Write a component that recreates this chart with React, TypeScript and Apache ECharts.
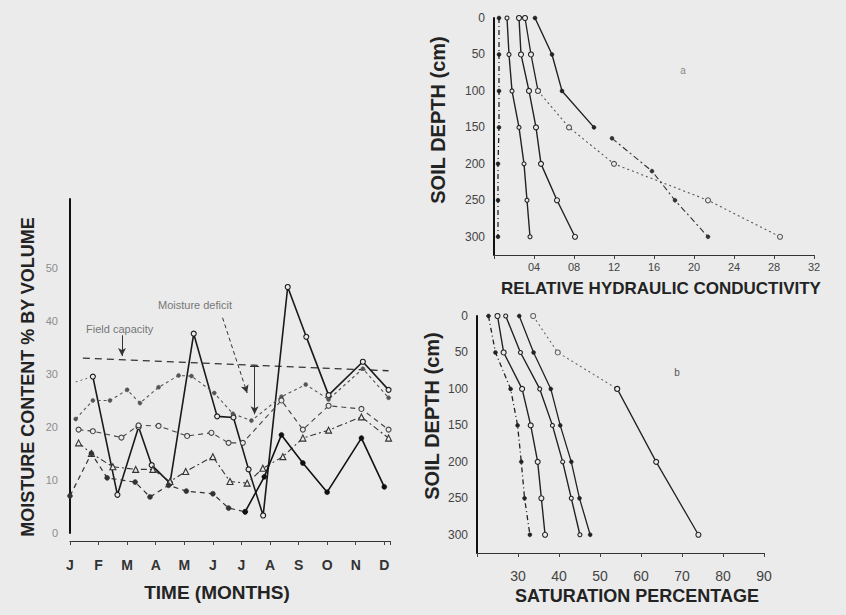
import React, { useEffect, useRef } from 'react';
import * as echarts from 'echarts';

// ---------- Left panel: moisture content over the year ----------
const months = ['J', 'F', 'M', 'A', 'M', 'J', 'J', 'A', 'S', 'O', 'N', 'D'];
const moistureMaxLabel = 50;

// [month position (0 = J), moisture % by volume]
const fieldCapacity = [[0.45, 33], [11.15, 30.6]];
const seriesALead = [[0.2, 28.5], [0.8, 29.5]];
const seriesA = [[0.8, 29.5], [1.66, 7.2], [2.4, 20], [2.86, 12.8], [3.5, 9.4], [4.33, 37.6], [5.15, 22], [5.72, 21.8], [6.25, 12], [6.76, 3.3], [7.62, 46.4], [8.27, 37], [9.05, 26], [10.25, 32.3], [11.15, 27]];
const seriesB = [[0.2, 21.5], [0.8, 25], [1.4, 25], [2.0, 27], [2.45, 24.5], [3.1, 27.5], [3.8, 29.7], [4.25, 29.6], [5.05, 26.4], [5.7, 22.5], [6.35, 21.2], [7.4, 25.7], [8.25, 28], [9.05, 25.2], [10.25, 31], [11.15, 25.5]];
const seriesC = [[0.3, 19.5], [0.8, 19.2], [1.8, 18], [2.4, 20.3], [3.1, 20.2], [4.1, 18.3], [4.95, 18.9], [5.55, 17], [6.05, 17], [7.4, 25], [8.15, 19.5], [9.05, 24], [10.2, 23.4], [11.15, 19.5]];
const seriesD = [[0.3, 17], [0.75, 15], [1.5, 12.5], [2.3, 12], [2.9, 12], [3.5, 9.7], [4.05, 11.6], [5.0, 14.4], [5.6, 9.7], [6.2, 9.4], [6.75, 12.2], [7.45, 14.4], [8.15, 17.9], [9.05, 19.4], [10.2, 21.9], [11.15, 17.9]];
const seriesEDry = [[0, 7], [0.75, 15], [1.3, 10.4], [2.28, 9.6], [2.8, 6.8], [3.45, 9], [4.07, 7.9], [5.0, 7.4], [5.55, 4.7], [6.13, 4]];
const seriesEWet = [[6.13, 4], [6.8, 10.6], [7.4, 18.5], [8.15, 13.2], [9.0, 7.7], [10.2, 17.9], [11.0, 8.7]];

// ---------- Right panels: soil depth profiles ----------
const depths = [0, 50, 100, 150, 200, 250, 300];
const condTickLabels = ['04', '08', '12', '16', '20', '24', '28', '32'];

// relative hydraulic conductivity at each depth
const cond1 = [0.005, 0.005, 0.005, 0.005, 0.004, 0.004, 0.004];
const cond2 = [0.013, 0.015, 0.018, 0.025, 0.030, 0.033, 0.036];
const cond3 = [0.025, 0.027, 0.035, 0.042, 0.047, 0.063, 0.081];
const cond4Top = [0.031, 0.037, 0.044];
const cond4Deep = [0.044, 0.075, 0.120, 0.214, 0.286];
const cond5Top = [0.041, 0.058, 0.068, 0.100];
const cond5DeepDepths = [165, 210, 250, 300];
const cond5Deep = [0.118, 0.158, 0.181, 0.214];

// saturation percentage at each depth
const sat1 = [22.8, 24.5, 28.2, 29.9, 30.8, 31.6, 32.9];
const sat2 = [25, 26.5, 31, 33.1, 34.8, 35.7, 36.6];
const sat3 = [27, 30.6, 35.3, 38.4, 40.9, 43, 45.1];
const sat4 = [30.3, 33.8, 38, 40.3, 43, 45, 47.6];
const sat5TopDepths = [0, 50, 100];
const sat5Top = [33.7, 39.7, 54.2];
const sat5DeepDepths = [100, 200, 300];
const sat5Deep = [54.2, 63.7, 74];

const BG = '#ebebeb';
const FONT = "'Liberation Sans', Arial, sans-serif";

const zip = (vals: number[], ds: number[]) => vals.map((v, i) => [v, ds[i]]);

function line(name: string, data: number[][], grid: number, opts: any) {
  const { color = '#222', width = 1.3, type = 'solid', symbol = 'none', size = 5, open = false } = opts;
  return {
    name,
    type: 'line',
    xAxisIndex: grid,
    yAxisIndex: grid,
    data,
    symbol,
    symbolSize: size,
    showSymbol: symbol !== 'none',
    lineStyle: { color, width, type },
    itemStyle: open
      ? { color: BG, borderColor: color, borderWidth: 1.1 }
      : { color, borderColor: color, borderWidth: 0.5 },
    emphasis: { disabled: true },
    z: 3,
  };
}

const axisLabelBase = { fontFamily: FONT, color: '#444' };

export default function App() {
  const ref = useRef<HTMLDivElement>(null);

  useEffect(() => {
    if (!ref.current) return;
    const chart = echarts.init(ref.current, undefined, { renderer: 'svg' });

    const titleStyle = (size: number) => ({
      fill: '#232323',
      font: `bold ${size}px ${FONT}`,
      align: 'center',
      verticalAlign: 'middle',
    });

    const option: any = {
      animation: false,
      backgroundColor: BG,
      grid: [
        { left: 70, top: 199, width: 320, height: 334 },
        { left: 494, top: 18, width: 320, height: 237 },
        { left: 477, top: 316, width: 287, height: 237 },
      ],
      xAxis: [
        {
          type: 'value', gridIndex: 0, min: 0, max: 11.2, interval: 1, offset: 8,
          axisLine: { onZero: false, lineStyle: { color: '#333', width: 1.2 } },
          axisTick: { show: true, length: 4, lineStyle: { color: '#444' } },
          axisLabel: {
            ...axisLabelBase, fontSize: 14, fontWeight: 'bold', color: '#333', margin: 17,
            formatter: (v: number) => (Number.isInteger(v) && months[v] ? months[v] : ''),
          },
          splitLine: { show: false },
        },
        {
          type: 'value', gridIndex: 1, min: 0, max: 0.32, interval: 0.04,
          axisLine: { onZero: false, lineStyle: { color: '#333', width: 1.2 } },
          axisTick: { show: true, length: 4, lineStyle: { color: '#444' } },
          axisLabel: {
            ...axisLabelBase, fontSize: 11, margin: 6,
            formatter: (v: number) => {
              const i = Math.round(v / 0.04) - 1;
              return i >= 0 && condTickLabels[i] ? condTickLabels[i] : '';
            },
          },
          splitLine: { show: false },
        },
        {
          type: 'value', gridIndex: 2, min: 20, max: 90, interval: 10,
          axisLine: { onZero: false, lineStyle: { color: '#333', width: 1.2 } },
          axisTick: { show: true, length: 4, lineStyle: { color: '#444' } },
          axisLabel: {
            ...axisLabelBase, fontSize: 14, margin: 16,
            formatter: (v: number) => (v === 20 ? '' : String(v)),
          },
          splitLine: { show: false },
        },
      ],
      yAxis: [
        {
          type: 'value', gridIndex: 0, min: 0, max: 63, interval: 10,
          axisLine: { show: true, onZero: false, lineStyle: { color: '#111', width: 2 } },
          axisTick: { show: false },
          axisLabel: {
            ...axisLabelBase, fontSize: 11, color: '#8c8c8c', margin: 12,
            formatter: (v: number) => (v <= moistureMaxLabel ? String(v) : ''),
          },
          splitLine: { show: false },
        },
        {
          type: 'value', gridIndex: 1, min: 0, max: 325, interval: 50, inverse: true,
          axisLine: { show: true, onZero: false, lineStyle: { color: '#111', width: 2 } },
          axisTick: { show: false },
          axisLabel: {
            ...axisLabelBase, fontSize: 12, margin: 9,
            formatter: (v: number) => (v <= 300 ? String(v) : ''),
          },
          splitLine: { show: false },
        },
        {
          type: 'value', gridIndex: 2, min: 0, max: 325, interval: 50, inverse: true,
          axisLine: { show: true, onZero: false, lineStyle: { color: '#111', width: 2 } },
          axisTick: { show: false },
          axisLabel: {
            ...axisLabelBase, fontSize: 12, margin: 9,
            formatter: (v: number) => (v <= 300 ? String(v) : ''),
          },
          splitLine: { show: false },
        },
      ],
      series: [
        {
          ...line('Field capacity', fieldCapacity, 0, { color: '#333', width: 1.3, type: [7, 5] }),
          markLine: {
            silent: true,
            animation: false,
            symbol: ['none', 'arrow'],
            symbolSize: [6, 8],
            label: { show: false },
            lineStyle: { color: '#333', width: 1, type: 'solid' },
            data: [
              [{ coord: [1.82, 37.3] }, { coord: [1.82, 33.4] }],
              [{ coord: [5.34, 40.6], lineStyle: { type: [4, 3] } }, { coord: [6.2, 26.4] }],
              [{ coord: [6.46, 31.4] }, { coord: [6.46, 22.4] }],
              [{ coord: [6.3, 31.4], symbol: 'none' }, { coord: [6.62, 31.4], symbol: 'none' }],
            ],
          },
        },
        line('A lead', seriesALead, 0, { color: '#666', width: 1, type: [2, 3] }),
        line('A', seriesA, 0, { color: '#1a1a1a', width: 1.6, symbol: 'circle', size: 5, open: true }),
        line('B', seriesB, 0, { color: '#555', width: 1.1, type: [3, 3], symbol: 'circle', size: 4 }),
        line('C', seriesC, 0, { color: '#444', width: 1.1, type: [5, 4], symbol: 'circle', size: 5, open: true }),
        line('D', seriesD, 0, { color: '#333', width: 1.1, type: [6, 3, 2, 3], symbol: 'triangle', size: 6, open: true }),
        line('E dry', seriesEDry, 0, { color: '#333', width: 1.2, type: [5, 4], symbol: 'circle', size: 5 }),
        line('E wet', seriesEWet, 0, { color: '#111', width: 1.6, symbol: 'circle', size: 5 }),

        line('K1', zip(cond1, depths), 1, { color: '#222', width: 1.3, type: [5, 3, 1, 3], symbol: 'circle', size: 4 }),
        line('K2', zip(cond2, depths), 1, { color: '#222', width: 1.4, symbol: 'circle', size: 4, open: true }),
        line('K3', zip(cond3, depths), 1, { color: '#222', width: 1.4, symbol: 'circle', size: 5, open: true }),
        line('K4 top', zip(cond4Top, depths.slice(0, 3)), 1, { color: '#222', width: 1.3, symbol: 'circle', size: 5, open: true }),
        line('K4 deep', zip(cond4Deep, depths.slice(2)), 1, { color: '#555', width: 1.1, type: [2, 3], symbol: 'circle', size: 5, open: true }),
        line('K5 top', zip(cond5Top, depths.slice(0, 4)), 1, { color: '#222', width: 1.4, symbol: 'circle', size: 4 }),
        line('K5 deep', zip(cond5Deep, cond5DeepDepths), 1, { color: '#333', width: 1.1, type: [6, 3, 2, 3], symbol: 'circle', size: 4 }),

        line('S1', zip(sat1, depths), 2, { color: '#222', width: 1.3, type: [5, 3, 1, 3], symbol: 'circle', size: 4 }),
        line('S2', zip(sat2, depths), 2, { color: '#222', width: 1.4, symbol: 'circle', size: 5, open: true }),
        line('S3', zip(sat3, depths), 2, { color: '#222', width: 1.4, symbol: 'circle', size: 4, open: true }),
        line('S4', zip(sat4, depths), 2, { color: '#222', width: 1.3, symbol: 'circle', size: 4 }),
        line('S5 top', zip(sat5Top, sat5TopDepths), 2, { color: '#666', width: 1.1, type: [2, 3], symbol: 'circle', size: 5, open: true }),
        line('S5 deep', zip(sat5Deep, sat5DeepDepths), 2, { color: '#222', width: 1.3, symbol: 'circle', size: 5, open: true }),
      ],
      graphic: [
        { type: 'text', x: 28, y: 377, rotation: Math.PI / 2, style: { text: 'MOISTURE CONTENT % BY VOLUME', ...titleStyle(18) } },
        { type: 'text', x: 217, y: 592, style: { text: 'TIME (MONTHS)', ...titleStyle(19) } },
        { type: 'text', x: 438, y: 120, rotation: Math.PI / 2, style: { text: 'SOIL DEPTH (cm)', ...titleStyle(20) } },
        { type: 'text', x: 661, y: 288, style: { text: 'RELATIVE HYDRAULIC CONDUCTIVITY', ...titleStyle(17) } },
        { type: 'text', x: 432, y: 416, rotation: Math.PI / 2, style: { text: 'SOIL DEPTH (cm)', ...titleStyle(20) } },
        { type: 'text', x: 637, y: 596, style: { text: 'SATURATION PERCENTAGE', ...titleStyle(18) } },
        { type: 'text', x: 86, y: 329, style: { text: 'Field capacity', fill: '#777', font: `11px ${FONT}`, verticalAlign: 'middle' } },
        { type: 'text', x: 158, y: 305, style: { text: 'Moisture deficit', fill: '#777', font: `11px ${FONT}`, verticalAlign: 'middle' } },
        { type: 'text', x: 683, y: 70, style: { text: 'a', fill: '#888', font: `10px ${FONT}`, align: 'center', verticalAlign: 'middle' } },
        { type: 'text', x: 677, y: 372, style: { text: 'b', fill: '#555', font: `10px ${FONT}`, align: 'center', verticalAlign: 'middle' } },
      ],
    };

    chart.setOption(option);
    return () => chart.dispose();
  }, []);

  return (
    <div
      ref={ref}
      style={{ position: 'absolute', left: 0, top: 0, width: 846, height: 615, background: BG }}
    />
  );
}
